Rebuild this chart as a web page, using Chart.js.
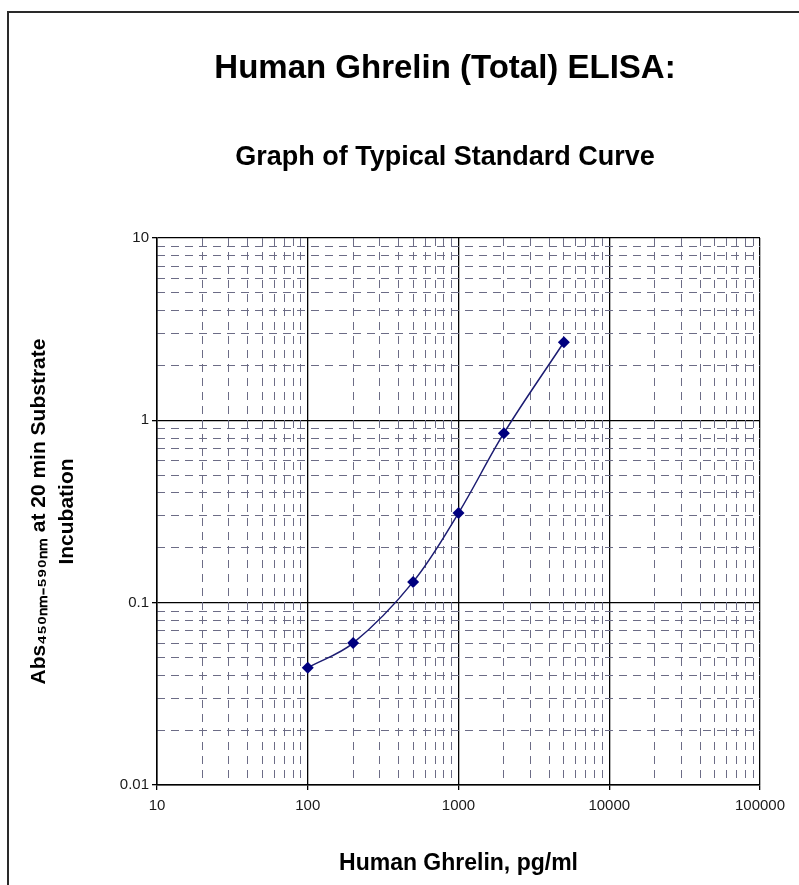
<!DOCTYPE html>
<html>
<head>
<meta charset="utf-8">
<title>Human Ghrelin (Total) ELISA</title>
<script src="https://cdn.jsdelivr.net/npm/chart.js@4.4.1/dist/chart.umd.min.js"></script>
<style>
    html, body { margin: 0; padding: 0; background: #fff; overflow: hidden; }
    #frame {
        position: absolute; left: 7px; top: 11px;
        width: 800px; height: 900px;
        border: 2px solid #2a2a2a;
    }
    #wrap { position: absolute; left: 0; top: 0; width: 799px; height: 885px; }
</style>
</head>
<body>
<div id="frame"></div>
<div id="wrap"><canvas id="curveChart" width="799" height="885"></canvas></div>
<script>
// Standard curve data
const concentrations = [100, 200, 500, 1000, 2000, 5000];   // pg/ml
const absorbance = [0.044, 0.060, 0.130, 0.31, 0.85, 2.68]; // Abs 450nm-590nm

// Axis ticks
const xMajorTicks = [10, 100, 1000, 10000, 100000];
const xTickLabels = ['10', '100', '1000', '10000', '100000'];
const yMajorTicks = [0.01, 0.1, 1, 10];
const yTickLabels = ['0.01', '0.1', '1', '10'];
const minorSteps = [2, 3, 4, 5, 6, 7, 8, 9];

const chartTitle = 'Human Ghrelin (Total) ELISA:';
const chartSubtitle = 'Graph of Typical Standard Curve';
const xTitle = 'Human Ghrelin, pg/ml';
const yTitle = ['Abs\u2084\u2085\u2080\u2099\u2098\u208B\u2085\u2089\u2080\u2099\u2098 at 20 min Substrate', 'Incubation'];

function minorTicks(majors) {
    const out = [];
    for (let i = 0; i < majors.length - 1; i++) {
        minorSteps.forEach(s => out.push(+(majors[i] * s).toPrecision(6)));
    }
    return out;
}

const FONT = '"Liberation Sans", Arial, sans-serif';
const minorGridColor = '#6c6c86';

let curveChart;

document.addEventListener('DOMContentLoaded', function() {
    const ctx = document.getElementById('curveChart').getContext('2d');
    curveChart = new Chart(ctx, {
        type: 'line',
        data: {
            datasets: [{
                label: 'Standard curve',
                data: concentrations.map((c, i) => ({ x: c, y: absorbance[i] })),
                xAxisID: 'x',
                yAxisID: 'y',
                borderColor: '#1c1c72',
                borderWidth: 1.5,
                backgroundColor: '#00007f',
                pointStyle: 'rectRot',
                pointRadius: 6,
                pointHoverRadius: 6,
                pointBorderWidth: 0,
                tension: 0.35,
                fill: false
            }]
        },
        options: {
            responsive: false,
            animation: false,
            // negative right padding + spacer axis: titles centred like the original, plot area unchanged
            layout: { padding: { left: 10, right: -81, top: 0, bottom: 0 } },
            plugins: {
                legend: { display: false },
                tooltip: { enabled: false },
                title: {
                    display: true,
                    text: chartTitle,
                    color: '#000',
                    font: { family: FONT, size: 33, weight: 'bold' },
                    padding: { top: 49, bottom: 0 }
                },
                subtitle: {
                    display: true,
                    text: chartSubtitle,
                    color: '#000',
                    font: { family: FONT, size: 27, weight: 'bold' },
                    padding: { top: 53, bottom: 64 }
                }
            },
            scales: {
                x: {
                    type: 'logarithmic',
                    position: 'bottom',
                    min: 10,
                    max: 100000,
                    afterBuildTicks: scale => { scale.ticks = xMajorTicks.map(v => ({ value: v })); },
                    afterFit: scale => { scale.height = 100; },
                    ticks: {
                        color: '#1a1a1a',
                        font: { family: FONT, size: 15 },
                        padding: 7,
                        maxRotation: 0,
                        autoSkip: false,
                        callback: (value, index) => xTickLabels[index]
                    },
                    grid: { color: '#000', lineWidth: 1.3, tickLength: 5, tickColor: '#000' },
                    border: { display: true, color: '#000', width: 1.5 },
                    title: {
                        display: true,
                        text: xTitle,
                        color: '#000',
                        font: { family: FONT, size: 23, weight: 'bold' },
                        padding: { top: 0, bottom: 8 }
                    }
                },
                y: {
                    type: 'logarithmic',
                    position: 'left',
                    min: 0.01,
                    max: 10,
                    afterBuildTicks: scale => { scale.ticks = yMajorTicks.map(v => ({ value: v })); },
                    afterFit: scale => { scale.width = 147; },
                    ticks: {
                        color: '#1a1a1a',
                        font: { family: FONT, size: 15 },
                        padding: 3,
                        autoSkip: false,
                        callback: (value, index) => yTickLabels[index]
                    },
                    grid: { color: '#000', lineWidth: 1.3, tickLength: 5, tickColor: '#000' },
                    border: { display: true, color: '#000', width: 1.5 },
                    title: {
                        display: true,
                        text: yTitle,
                        color: '#000',
                        font: { family: FONT, size: 21, weight: 'bold', lineHeight: 1.3 },
                        padding: { top: 16, bottom: 0 }
                    }
                },
                xMinor: {
                    type: 'logarithmic',
                    position: 'bottom',
                    min: 10,
                    max: 100000,
                    afterBuildTicks: scale => { scale.ticks = minorTicks(xMajorTicks).map(v => ({ value: v })); },
                    afterFit: scale => { scale.height = 0; },
                    ticks: { display: false },
                    grid: { color: minorGridColor, lineWidth: 1, drawTicks: false },
                    border: { display: false, dash: [8, 6] }
                },
                yMinor: {
                    type: 'logarithmic',
                    position: 'left',
                    min: 0.01,
                    max: 10,
                    afterBuildTicks: scale => { scale.ticks = minorTicks(yMajorTicks).map(v => ({ value: v })); },
                    afterFit: scale => { scale.width = 0; },
                    ticks: { display: false },
                    grid: { color: minorGridColor, lineWidth: 1, drawTicks: false },
                    border: { display: false, dash: [8, 6] }
                },
                spacer: {
                    type: 'linear',
                    position: 'right',
                    min: 0,
                    max: 1,
                    afterFit: scale => { scale.width = 120; },
                    ticks: { display: false },
                    grid: { display: false, drawTicks: false },
                    border: { display: false }
                }
            }
        }
    });
});
</script>
</body>
</html>
